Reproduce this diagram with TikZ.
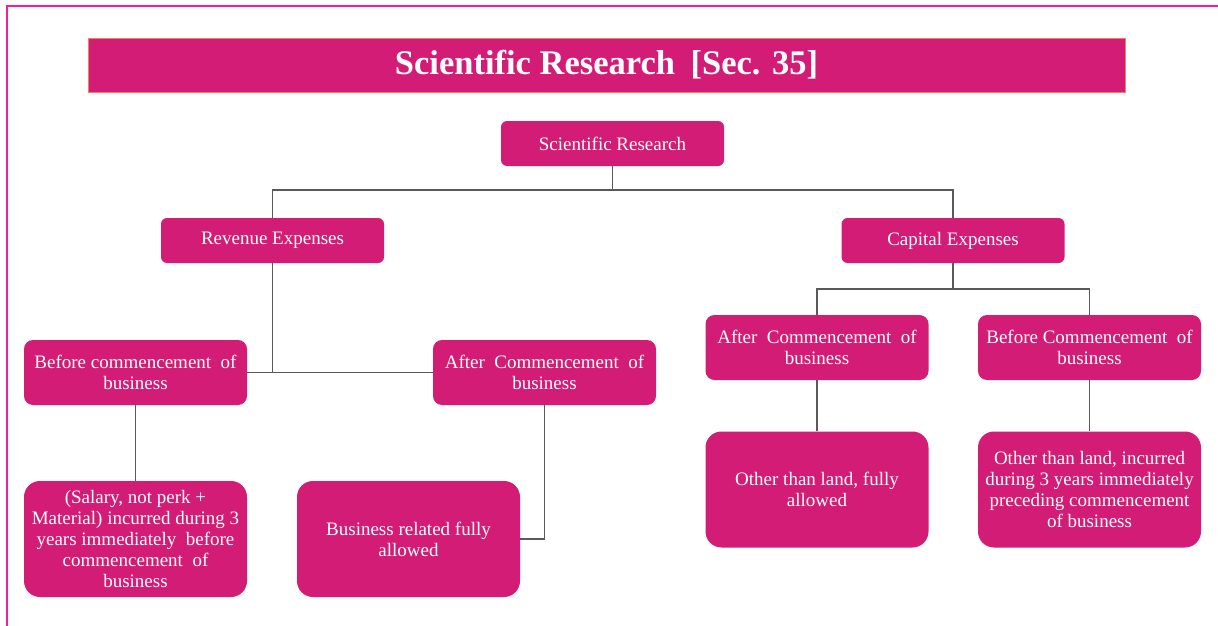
\documentclass[tikz,border=0pt]{standalone}
\usepackage{fontspec}
\setmainfont{Liberation Serif}
\definecolor{boxpink}{HTML}{D31C75}
\definecolor{framepink}{HTML}{F21E9E}
\definecolor{titleedge}{HTML}{F0825A}
\definecolor{linegray}{HTML}{5A5A5A}
\begin{document}
\begin{tikzpicture}[x=1pt,y=-1pt,
  box/.style={fill=boxpink, text=white, rounded corners=6pt, align=center,
    inner sep=0pt, font=\fontsize{19}{20.8}\selectfont},
  smallbox/.style={box, minimum width=223pt, minimum height=45pt},
  midbox/.style={box, minimum width=223pt, minimum height=65pt, rounded corners=9pt},
  bigbox/.style={box, minimum width=223pt, minimum height=116pt, rounded corners=16pt},
  conn/.style={draw=linegray, line width=1.4pt}]
\useasboundingbox (0,0) rectangle (1218,626);
\fill[white] (0,0) rectangle (1218,626);
\draw[framepink, line width=2pt] (7,626) -- (7,6) -- (1218,6);
% title
\node[fill=boxpink, draw=titleedge, line width=0.8pt, minimum width=1037pt, minimum height=54pt,
  inner sep=0pt, text=white, font=\fontsize{34.5}{40}\selectfont\bfseries] (title) at (606.5,65)
  {Scientific Research\hspace{0.45em}[Sec. 35]};
% nodes
\node[smallbox] (root) at (612.5,143.5) {Scientific Research};
\node[smallbox] (rev) at (272.5,240.5) {Revenue Expenses};
\node[smallbox] (cap) at (953,240.5) {Capital Expenses};
\node[midbox] (rbefore) at (135.5,372.5) {Before commencement\ \ of\\business};
\node[midbox] (rafter) at (544.5,372.5) {After\ \ Commencement\ \ of\\business};
\node[bigbox] (rsal) at (135.5,539) {(Salary, not perk +\\Material) incurred during 3\\years immediately\ \ before\\commencement\ \ of\\business};
\node[bigbox] (rbus) at (408.5,539) {Business related fully\\allowed};
\node[midbox] (cafter) at (817,347.5) {After\ \ Commencement\ \ of\\business};
\node[midbox] (cbefore) at (1089.5,347.5) {Before Commencement\ \ of\\business};
\node[bigbox] (cfull) at (817,489.5) {Other than land, fully\\allowed};
\node[bigbox] (cland) at (1089.5,489.5) {Other than land, incurred\\during 3 years immediately\\preceding commencement\\of business};
% connectors
\coordinate (rootjoin) at (root.south |- 0,190);
\draw[conn] (root.south) -- (rootjoin);
\draw[conn] (rev.north) -- (rev.north |- rootjoin) -- (cap.north |- rootjoin) -- (cap.north);
\draw[conn] (rev.south) -- (rev.south |- rbefore.east);
\draw[conn] (rbefore.east) -- (rafter.west);
\draw[conn] (rbefore.south) -- (rsal.north);
\draw[conn] (rafter.south) -- (rafter.south |- rbus.east) -- (rbus.east);
\coordinate (capjoin) at (cap.south |- 0,289);
\draw[conn] (cap.south) -- (capjoin);
\draw[conn] (cafter.north) -- (cafter.north |- capjoin) -- (cbefore.north |- capjoin) -- (cbefore.north);
\draw[conn] (cafter.south) -- (cfull.north);
\draw[conn] (cbefore.south) -- (cland.north);
\end{tikzpicture}
\end{document}
